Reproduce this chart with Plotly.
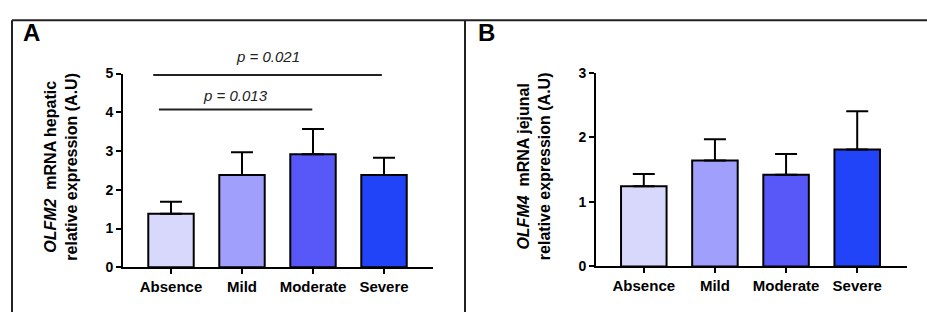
import plotly.graph_objects as go

W, H = 927, 320

categories = ["Absence", "Mild", "Moderate", "Severe"]
colors = ["#d8d8fc", "#a0a0fc", "#5858f8", "#2244f8"]

# Panel A: OLFM2 hepatic
a_means = [1.38, 2.38, 2.92, 2.38]
a_sem = [0.31, 0.59, 0.65, 0.45]
a_ticks = [0, 1, 2, 3, 4, 5]
a_sig = [  # (x0, x1, y, label, yshift)
    (-0.25, 2.97, 4.96, "p = 0.021", 8),
    (-0.17, 1.99, 4.07, "p = 0.013", 4),
]

# Panel B: OLFM4 jejunal
b_means = [1.24, 1.64, 1.42, 1.81]
b_sem = [0.19, 0.33, 0.32, 0.59]
b_ticks = [0, 1, 2, 3]

FONT = "Liberation Sans, Arial, sans-serif"

fig = go.Figure()

def add_bars(means, sem, xa, ya):
    fig.add_trace(go.Bar(
        x=categories, y=means, xaxis=xa, yaxis=ya,
        width=0.64,
        marker=dict(color=colors, line=dict(color="black", width=2)),
        error_y=dict(type="data", symmetric=False, array=sem,
                     arrayminus=[0] * len(sem), color="black",
                     thickness=2, width=11),
        showlegend=False,
    ))

add_bars(a_means, a_sem, "x", "y")
add_bars(b_means, b_sem, "x2", "y2")

axis_common = dict(
    showline=True, linecolor="black", linewidth=2,
    ticks="outside", ticklen=5, tickwidth=2, tickcolor="black",
    showgrid=False, zeroline=False,
)

fig.update_layout(
    width=W, height=H,
    margin=dict(l=0, r=0, t=0, b=0),
    paper_bgcolor="white", plot_bgcolor="white",
    font=dict(family=FONT, color="black"),
    bargap=0.36,
    xaxis=dict(domain=[123 / W, 433 / W], anchor="y", range=[-0.676, 3.69],
               tickfont=dict(size=15, weight="bold"), **axis_common),
    yaxis=dict(domain=[(H - 273) / H, (H - 69) / H], anchor="x", range=[0, 5],
               tickvals=a_ticks, tickfont=dict(size=14, weight="bold"),
               **axis_common),
    xaxis2=dict(domain=[596 / W, 907 / W], anchor="y2", range=[-0.672, 3.70],
                tickfont=dict(size=15, weight="bold"), **axis_common),
    yaxis2=dict(domain=[(H - 272) / H, (H - 68) / H], anchor="x2", range=[0, 3],
                tickvals=b_ticks, tickfont=dict(size=14, weight="bold"),
                **axis_common),
)

shapes = []
annotations = []

# significance brackets
for x0, x1, yv, lab, ys in a_sig:
    shapes.append(dict(type="line", xref="x", yref="y", x0=x0, x1=x1,
                       y0=yv, y1=yv, line=dict(color="#222", width=2)))
    annotations.append(dict(xref="x", yref="y", x=(x0 + x1) / 2, y=yv,
                            text="<i>" + lab + "</i>", showarrow=False,
                            yanchor="bottom", yshift=ys,
                            font=dict(size=15, color="#222")))

# frame
def px(x):
    return x / W

def py(y):
    return 1 - y / H

frame = dict(color="#222", width=2)
shapes.append(dict(type="line", xref="paper", yref="paper",
                   x0=px(12), x1=1, y0=py(13), y1=py(13), line=frame))
shapes.append(dict(type="line", xref="paper", yref="paper",
                   x0=px(12), x1=px(12), y0=py(13), y1=0, line=frame))
shapes.append(dict(type="line", xref="paper", yref="paper",
                   x0=px(465), x1=px(465), y0=py(13), y1=0, line=frame))

# panel letters
for lx, letter in [(31.5, "A"), (486, "B")]:
    annotations.append(dict(xref="paper", yref="paper", x=px(lx), y=py(26),
                            text=letter, showarrow=False,
                            xanchor="center", yanchor="middle",
                            font=dict(size=24, weight="bold")))

# y-axis titles
for tx, gene, tissue in [(61, "OLFM2", "hepatic"), (533.5, "OLFM4", "jejunal")]:
    annotations.append(dict(
        xref="paper", yref="paper", x=px(tx), y=py(167),
        text="<i>" + gene + "</i>&nbsp;&nbsp;mRNA " + tissue +
             "<br>relative expression (A.U)",
        textangle=-90, showarrow=False, xanchor="center", yanchor="middle",
        font=dict(size=16, weight="bold")))

fig.update_layout(shapes=shapes, annotations=annotations)

fig.write_html("out.html")
